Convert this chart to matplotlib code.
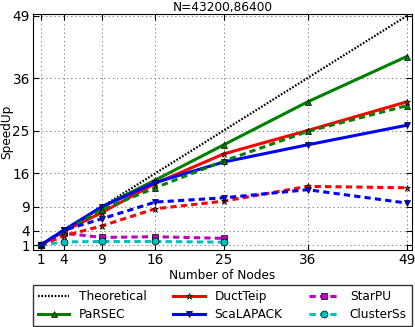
import matplotlib
matplotlib.use('Agg')
import matplotlib.pyplot as plt

# ----------------------------------------------------------------------------
#  DATA
# ----------------------------------------------------------------------------
nodes       = [1, 4, 9, 16, 25, 36, 49]
nodes_short = [1, 4, 9, 16, 25]

theoretical     = [1, 4, 9, 16, 25, 36, 49]
parsec_large    = [1, 4.0, 9.0, 14.6, 22.0, 31.0, 40.5]
parsec_small    = [1, 3.8, 8.4, 13.0, 18.6, 24.8, 30.2]
ductteip_large  = [1, 3.9, 7.8, 13.9, 20.1, 25.0, 31.0]
ductteip_small  = [1, 2.9, 5.0, 8.6, 10.2, 13.3, 13.0]
scalapack_large = [1, 4.1, 9.0, 14.1, 18.4, 22.0, 26.1]
scalapack_small = [1, 4.1, 6.5, 10.0, 10.9, 12.6, 9.8]
starpu          = [1, 3.5, 2.6, 2.75, 2.4]
clusterss       = [1, 1.65, 1.75, 1.75, 1.6]

tick_values = [1, 4, 9, 16, 25, 36, 49]

# ----------------------------------------------------------------------------
#  PLOT
# ----------------------------------------------------------------------------
plt.rcParams.update({'font.family': 'DejaVu Sans',
                     'lines.scale_dashes': False,
                     'xtick.direction': 'in',
                     'ytick.direction': 'in'})

green   = (0.0, 0.5, 0.0)
red     = (1.0, 0.0, 0.0)
blue    = (0.0, 0.0, 1.0)
magenta = (0.75, 0.0, 0.75)
cyan    = (0.0, 0.75, 0.75)

lw     = 2.2
dashed = (0, (4.5, 3.0))
mk     = dict(markersize=5, markeredgecolor='k', markeredgewidth=0.5)
fs     = 8.7

fig = plt.figure(figsize=(4.15, 3.27), dpi=100)
ax  = fig.add_subplot(111)

ax.plot(nodes, theoretical, color='k', linestyle=(0, (1.2, 1.2)), linewidth=1.6, label='Theoretical')
ax.plot(nodes, parsec_large, color=green, marker='^', linewidth=lw, label='PaRSEC', **mk)
ax.plot(nodes, ductteip_large, color=red, marker='*', linewidth=lw, label='DuctTeip', **mk)
ax.plot(nodes, scalapack_large, color=blue, marker='v', linewidth=lw, label='ScaLAPACK', **mk)
ax.plot(nodes_short, starpu, color=magenta, marker='s', linestyle=dashed, linewidth=lw, label='StarPU', **mk)
ax.plot(nodes_short, clusterss, color=cyan, marker='o', linestyle=dashed, linewidth=lw, label='ClusterSs', **mk)

ax.plot(nodes, parsec_small, color=green, marker='^', linestyle=dashed, linewidth=lw, **mk)
ax.plot(nodes, ductteip_small, color=red, marker='*', linestyle=dashed, linewidth=lw, **mk)
ax.plot(nodes, scalapack_small, color=blue, marker='v', linestyle=dashed, linewidth=lw, **mk)

ax.set_xlim(0, 49.66)
ax.set_ylim(0, 49.4)
ax.set_xticks(tick_values)
ax.set_yticks(tick_values)
ax.tick_params(labelsize=9.8, pad=2.5, top=True, right=True, length=4)
ax.grid(True, color='0.45', linestyle=(0, (1, 2)), linewidth=0.6)

ax.set_xlabel('Number of Nodes', fontsize=fs, labelpad=1)
ax.set_ylabel('SpeedUp', fontsize=fs)
ax.yaxis.set_label_coords(-0.054, 0.5)
ax.set_title('N=43200,86400', fontsize=fs, pad=2)

leg = ax.legend(loc='upper left', bbox_to_anchor=(0.0, -0.149, 1.0, 0.0), mode='expand',
                ncol=3, fontsize=fs, fancybox=False, borderaxespad=0, handlelength=2.6,
                labelspacing=0.42, borderpad=0.4)
leg.get_frame().set_edgecolor('k')

fig.subplots_adjust(left=0.080, right=0.992, top=0.957, bottom=0.236)
fig.savefig('out.png', dpi=100)
